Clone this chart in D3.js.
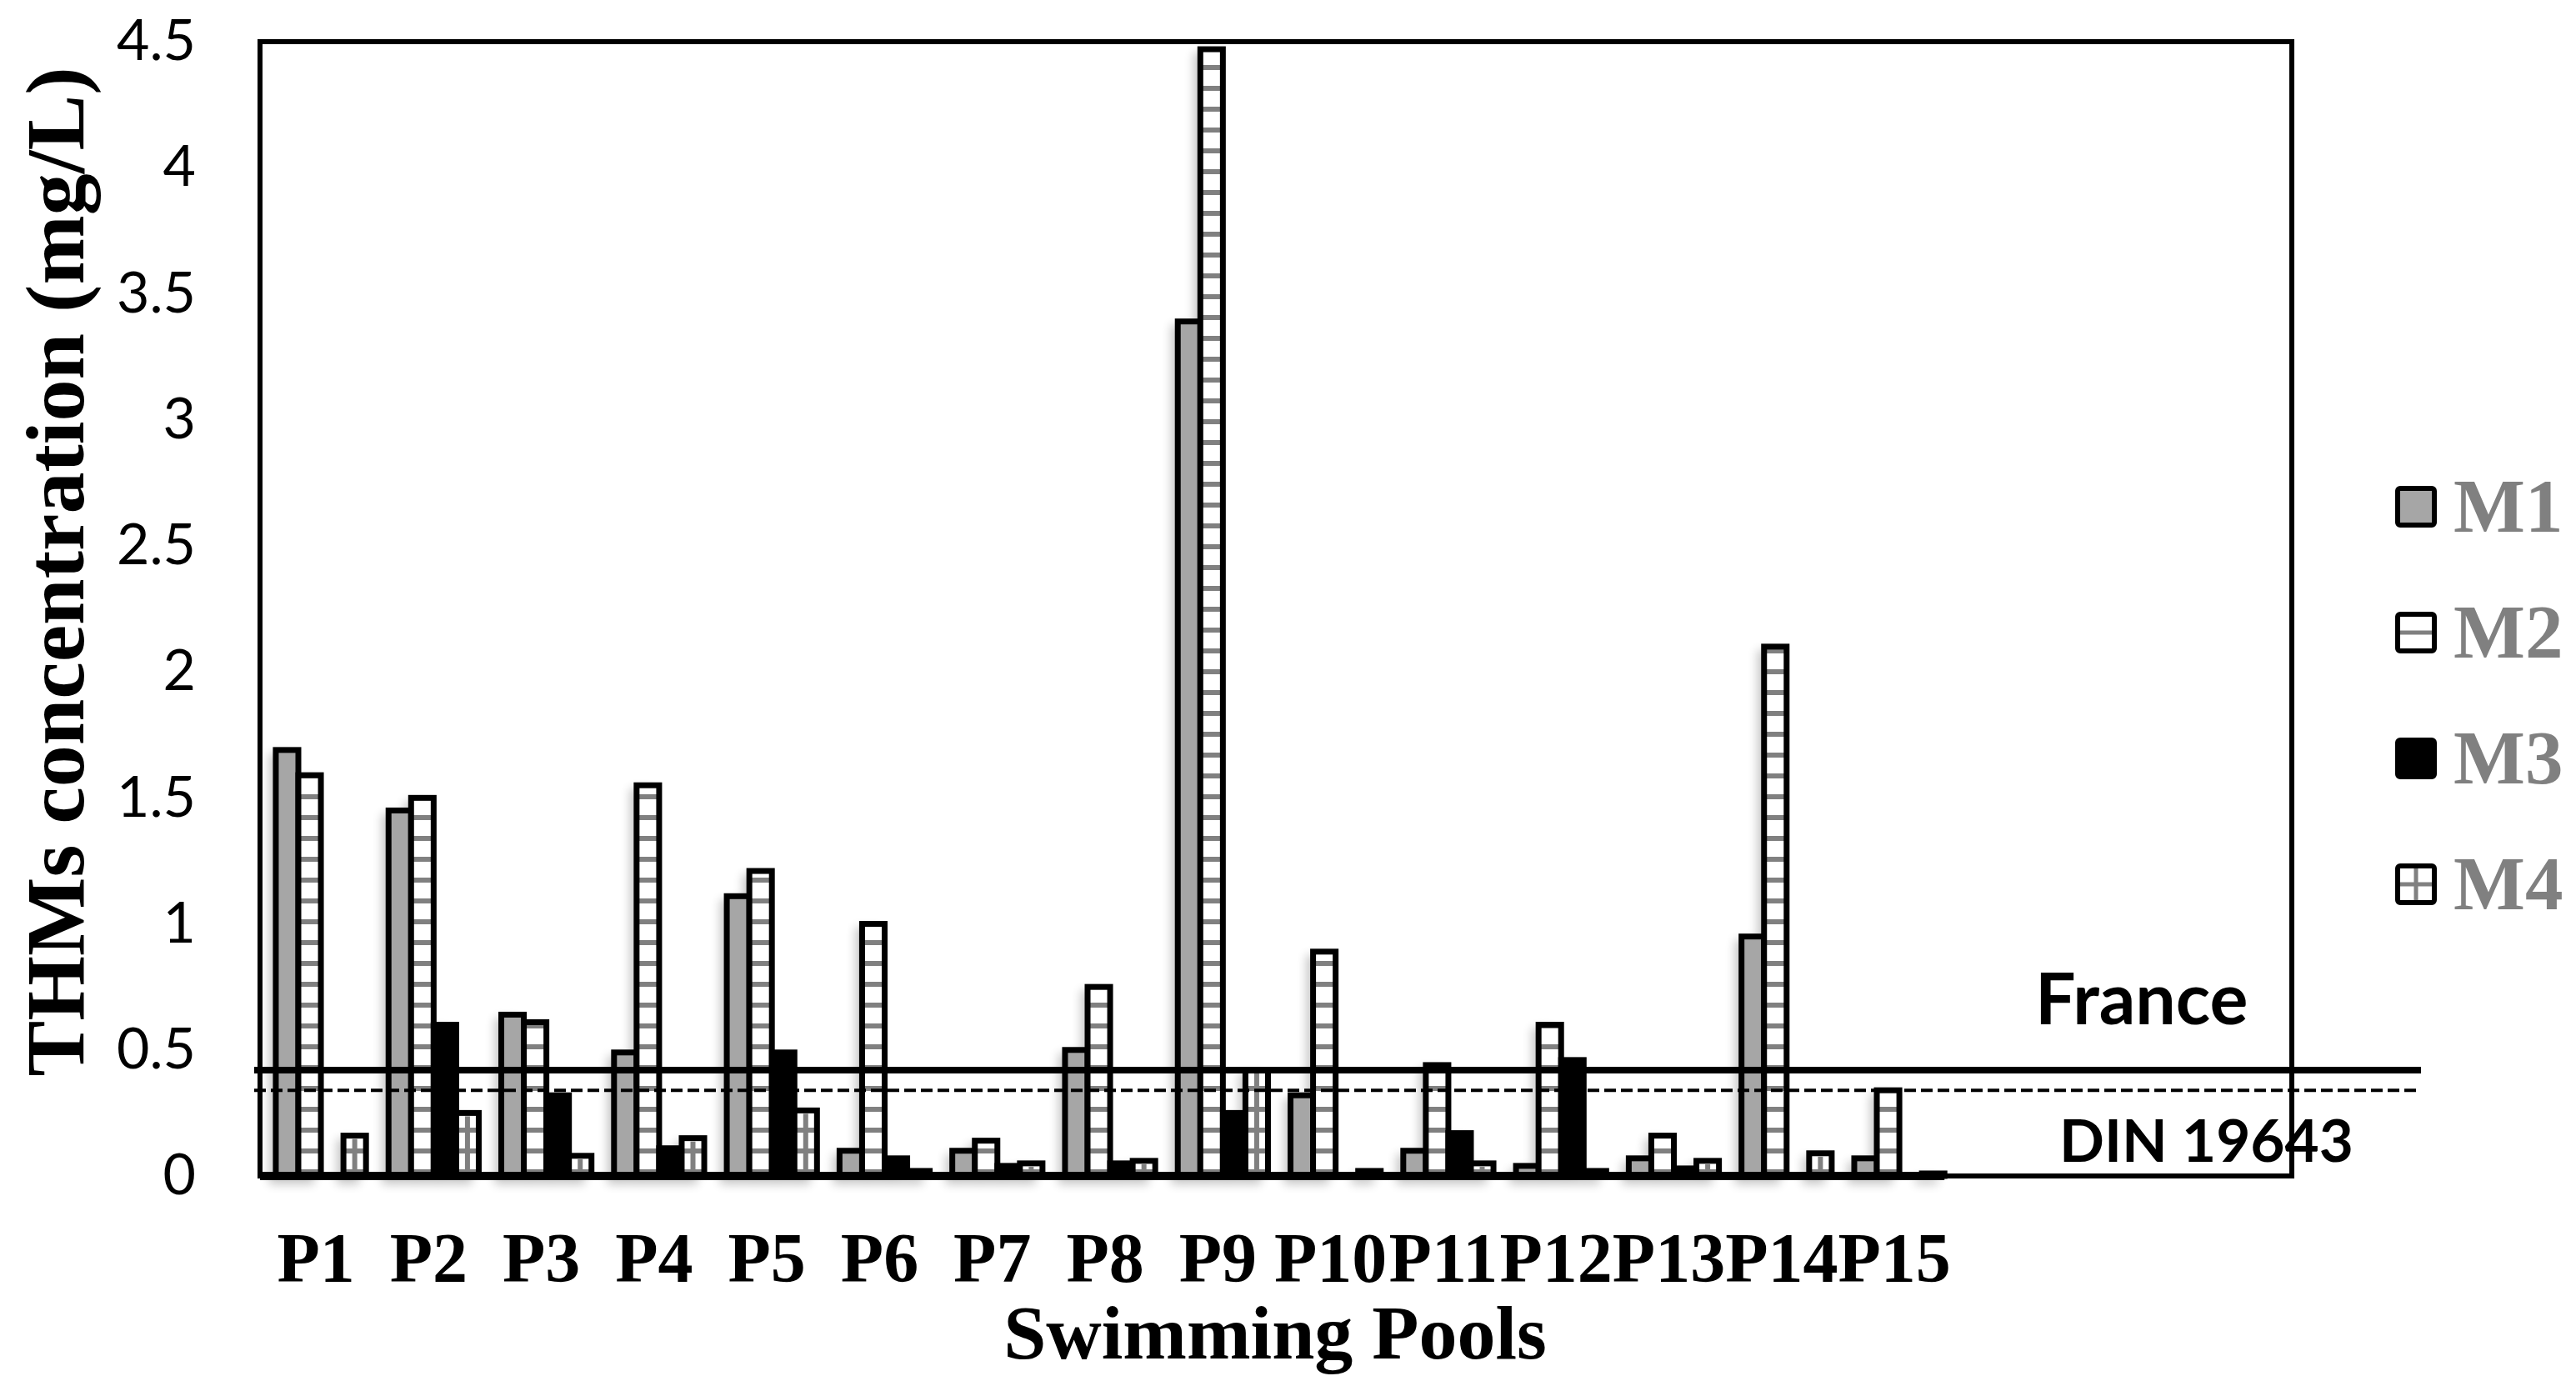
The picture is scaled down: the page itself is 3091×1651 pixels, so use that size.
<!DOCTYPE html>
<html>
<head>
<meta charset="utf-8">
<script src="https://cdn.jsdelivr.net/npm/d3@7"></script>
<style>
  body { margin: 0; background: #fff; }
</style>
</head>
<body>
<svg id="chart"></svg>
<script>

// data (mg/L)
var pools = ["P1","P2","P3","P4","P5","P6","P7","P8","P9","P10","P11","P12","P13","P14","P15"];
var seriesNames = ["M1","M2","M3","M4"];
var m1 = [1.69,1.45,0.64,0.49,1.11,0.10,0.10,0.50,3.39,0.32,0.10,0.04,0.07,0.95,0.07];
var m2 = [1.59,1.50,0.61,1.55,1.21,1.00,0.14,0.75,4.47,0.89,0.44,0.60,0.16,2.10,0.34];
var m3 = [0.00,0.60,0.32,0.11,0.49,0.07,0.04,0.05,0.25,0.00,0.17,0.46,0.03,0.00,0.00];
var m4 = [0.16,0.25,0.08,0.15,0.26,0.02,0.05,0.06,0.42,0.02,0.05,0.02,0.06,0.09,0.01];
var yTicks = [0,0.5,1,1.5,2,2.5,3,3.5,4,4.5];
var limitNames = ["France","DIN 19643"];
var limitValues = [0.42, 0.34];

var svgWidth = 3091, svgHeight = 1651;
var plotLeft = 312, plotRight = 2750, plotTop = 50, plotBottom = 1411;
var nSlots = 18;   // category slots on the axis, last ones empty

var svg = d3.select('#chart')
    .attr('width', svgWidth)
    .attr('height', svgHeight);

var defs = svg.append('defs');

// horizontal gray stripes, lined up on the zero line
var pat = defs.append('pattern')
    .attr('id', 'hstripe')
    .attr('patternUnits', 'userSpaceOnUse')
    .attr('x', 0).attr('y', plotBottom)
    .attr('width', 20).attr('height', 25);
pat.append('rect').attr('width', 20).attr('height', 25).attr('fill', '#fff');
pat.append('rect').attr('y', 17).attr('width', 20).attr('height', 6).attr('fill', '#808080');

var blur = defs.append('filter').attr('id', 'blur')
    .attr('x', '-50%').attr('y', '-20%').attr('width', '200%').attr('height', '140%');
blur.append('feGaussianBlur').attr('stdDeviation', 6);

var x = d3.scaleBand()
    .domain(d3.range(nSlots))
    .range([plotLeft, 2758])
    .paddingInner(0.2)
    .paddingOuter(0.14);

var xs = d3.scaleBand()
    .domain(seriesNames)
    .range([0, x.bandwidth()]);

var y = d3.scaleLinear()
    .domain([0, 4.5])
    .range([plotBottom, plotTop]);

var values = [m1, m2, m3, m4];
var fills = {M1: '#a6a6a6', M2: 'url(#hstripe)', M3: '#000', M4: 'url(#hstripe)'};

var rows = [];
pools.forEach(function(p, i) {
  seriesNames.forEach(function(s, j) {
    if (values[j][i] > 0) rows.push({pool: p, idx: i, series: s, value: values[j][i]});
  });
});

// soft shadow to the left of the bars
svg.append('g')
    .attr('filter', 'url(#blur)')
    .attr('opacity', 0.22)
  .selectAll('rect')
    .data(rows)
    .enter()
    .append('rect')
    .attr('x', function(d) { return x(d.idx) + xs(d.series) - 8; })
    .attr('y', function(d) { return y(d.value) + 4; })
    .attr('width', xs.bandwidth())
    .attr('height', function(d) { return plotBottom - y(d.value) + 6; })
    .attr('fill', '#000');

// plot frame
svg.append('rect')
    .attr('x', plotLeft).attr('y', plotTop)
    .attr('width', plotRight - plotLeft).attr('height', plotBottom - plotTop)
    .attr('fill', 'none')
    .attr('stroke', '#000')
    .attr('stroke-width', 6);

var bars = svg.append('g');

bars.selectAll('rect')
    .data(rows)
    .enter()
    .append('rect')
    .attr('x', function(d) { return x(d.idx) + xs(d.series); })
    .attr('y', function(d) { return y(d.value); })
    .attr('width', xs.bandwidth())
    .attr('height', function(d) { return plotBottom - y(d.value); })
    .attr('fill', function(d) { return fills[d.series]; })
    .attr('stroke', '#000')
    .attr('stroke-width', 7);

// M4 grid: a vertical gray line down the middle of each bar
bars.selectAll('line')
    .data(rows.filter(function(d) { return d.series === 'M4' && plotBottom - y(d.value) > 8; }))
    .enter()
    .append('line')
    .attr('x1', function(d) { return x(d.idx) + xs(d.series) + xs.bandwidth() / 2; })
    .attr('x2', function(d) { return x(d.idx) + xs(d.series) + xs.bandwidth() / 2; })
    .attr('y1', function(d) { return y(d.value) + 4; })
    .attr('y2', plotBottom - 4)
    .attr('stroke', '#808080')
    .attr('stroke-width', 6);

// heavy base line under the bars
svg.append('line')
    .attr('x1', plotLeft).attr('x2', x(pools.length - 1) + x.bandwidth())
    .attr('y1', plotBottom).attr('y2', plotBottom)
    .attr('stroke', '#000')
    .attr('stroke-width', 10);

// limit lines
var limits = limitNames.map(function(n, i) { return {name: n, value: limitValues[i]}; });

svg.selectAll('.limit')
    .data(limits)
    .enter()
    .append('line')
    .attr('class', 'limit')
    .attr('x1', 305).attr('x2', 2905)
    .attr('y1', function(d) { return y(d.value); })
    .attr('y2', function(d) { return y(d.value); })
    .attr('stroke', '#000')
    .attr('stroke-width', function(d, i) { return i === 0 ? 8 : 4; })
    .attr('stroke-dasharray', function(d, i) { return i === 0 ? null : '14,6'; });

svg.selectAll('.limit-label')
    .data(limits)
    .enter()
    .append('text')
    .attr('class', 'limit-label')
    .attr('x', function(d, i) { return i === 0 ? 2442 : 2471; })
    .attr('y', function(d, i) { return i === 0 ? y(d.value) - 55 : y(d.value) + 86; })
    .attr('font-family', 'Lato, sans-serif')
    .attr('font-weight', 'bold')
    .attr('font-size', function(d, i) { return i === 0 ? 86 : 71; })
    .attr('fill', '#000')
    .text(function(d) { return d.name; });

// y axis
var yAxis = d3.axisLeft(y)
    .tickValues(yTicks)
    .tickSize(0)
    .tickPadding(77)
    .tickFormat(d3.format('~g'));

var gy = svg.append('g')
    .attr('transform', 'translate(' + plotLeft + ',0)')
    .call(yAxis);
gy.select('.domain').remove();
gy.selectAll('text')
    .attr('font-family', 'Lato, sans-serif')
    .attr('font-size', 68)
    .attr('fill', '#000');

svg.append('text')
    .attr('transform', 'translate(100,686) rotate(-90)')
    .attr('text-anchor', 'middle')
    .attr('font-family', '"Liberation Serif", "Times New Roman", serif')
    .attr('font-weight', 'bold')
    .attr('font-size', 100)
    .text('THMs concentration (mg/L)');

// x labels
svg.selectAll('.xlab')
    .data(pools)
    .enter()
    .append('text')
    .attr('class', 'xlab')
    .attr('x', function(d, i) { return x(i) + x.bandwidth() / 2 - 6; })
    .attr('y', 1538)
    .attr('text-anchor', 'middle')
    .attr('font-family', '"Liberation Serif", "Times New Roman", serif')
    .attr('font-weight', 'bold')
    .attr('font-size', 84)
    .text(function(d) { return d; });

svg.append('text')
    .attr('x', 1530).attr('y', 1630)
    .attr('text-anchor', 'middle')
    .attr('font-family', '"Liberation Serif", "Times New Roman", serif')
    .attr('font-weight', 'bold')
    .attr('font-size', 92)
    .text('Swimming Pools');

// legend
var legend = svg.selectAll('.legend')
    .data(seriesNames)
    .enter()
    .append('g')
    .attr('class', 'legend')
    .attr('transform', function(d, i) { return 'translate(2874,' + (583 + i * 151) + ')'; });

legend.append('rect')
    .attr('x', 3).attr('y', 3)
    .attr('width', 44).attr('height', 44)
    .attr('rx', 3)
    .attr('fill', function(d) { return d === 'M1' ? '#a6a6a6' : d === 'M3' ? '#000' : '#fff'; })
    .attr('stroke', '#000')
    .attr('stroke-width', 6);

legend.filter(function(d) { return d === 'M2' || d === 'M4'; })
    .append('line')
    .attr('x1', 6).attr('x2', 44).attr('y1', 25).attr('y2', 25)
    .attr('stroke', '#808080').attr('stroke-width', 5);

legend.filter(function(d) { return d === 'M4'; })
    .append('line')
    .attr('x1', 25).attr('x2', 25).attr('y1', 6).attr('y2', 44)
    .attr('stroke', '#808080').attr('stroke-width', 5);

legend.append('text')
    .attr('x', 70).attr('y', 55)
    .attr('font-family', '"Liberation Serif", "Times New Roman", serif')
    .attr('font-weight', 'bold')
    .attr('font-size', 91)
    .attr('fill', '#808080')
    .text(function(d) { return d; });

</script>
</body>
</html>
